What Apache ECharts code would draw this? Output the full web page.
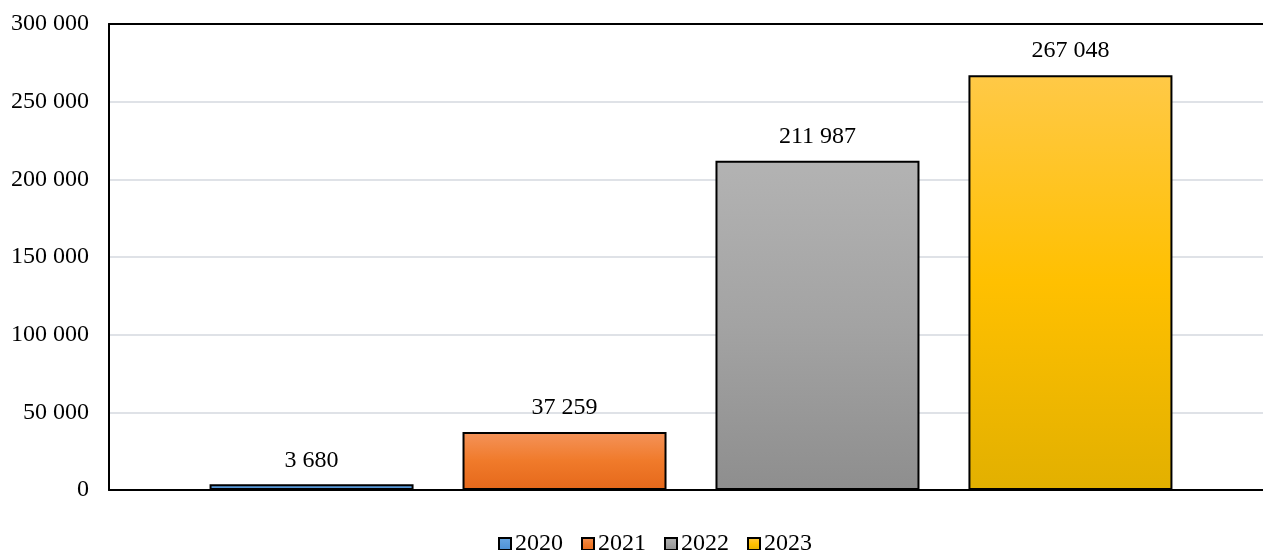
<!DOCTYPE html>
<html>
<head>
<meta charset="utf-8">
<script src="https://cdn.jsdelivr.net/npm/echarts@6/dist/echarts.min.js"></script>
<style>html,body{margin:0;padding:0;background:#fff}#c{width:1263px;height:550px}</style>
</head>
<body>
<div id="c"></div>
<script>
const categories = [''];
const seriesNames = ['2020', '2021', '2022', '2023'];
const values2020 = [3680];
const values2021 = [37259];
const values2022 = [211987];
const values2023 = [267048];
const yTicks = [0, 50000, 100000, 150000, 200000, 250000, 300000];

const allValues = [values2020, values2021, values2022, values2023];
const gradients = [
  [['#6aa8e4', 0], ['#4a8fd4', 1]],
  [['#f4935a', 0], ['#f07a2a', 0.5], ['#e5681b', 1]],
  [['#b3b3b3', 0], ['#a3a3a3', 0.5], ['#8e8e8e', 1]],
  [['#ffc947', 0], ['#ffc000', 0.5], ['#e2b000', 1]]
];
function grad(stops) {
  return new echarts.graphic.LinearGradient(0, 0, 0, 1,
    stops.map(s => ({ offset: s[1], color: s[0] })));
}
const fmt = v => String(v).replace(/\B(?=(\d{3})+(?!\d))/g, ' ');
const font = 'Liberation Serif';

const chart = echarts.init(document.getElementById('c'), null, { renderer: 'canvas' });
chart.setOption({
  animation: false,
  textStyle: { fontFamily: font },
  grid: { left: 109, width: 1164, top: 24, height: 466, outerBoundsMode: 'none', containLabel: false, show: false },
  legend: {
    data: seriesNames,
    top: 527,
    left: 493,
    icon: 'rect',
    itemWidth: 12,
    itemHeight: 12,
    itemGap: 18,
    textStyle: { fontFamily: font, fontSize: 24, color: '#000', padding: [0, 0, 0, -1] }
  },
  xAxis: [{
    type: 'category',
    data: categories,
    axisLine: { show: true, lineStyle: { color: '#000', width: 2 } },
    axisTick: { show: false },
    axisLabel: { show: false },
    splitLine: { show: false }
  }, {
    type: 'category',
    position: 'top',
    data: categories,
    axisLine: { show: true, onZero: false, lineStyle: { color: '#000', width: 2 } },
    axisTick: { show: false },
    axisLabel: { show: false },
    splitLine: { show: false }
  }],
  yAxis: {
    type: 'value',
    min: yTicks[0],
    max: yTicks[yTicks.length - 1],
    interval: yTicks[1] - yTicks[0],
    axisLine: { show: true, lineStyle: { color: '#000', width: 2 } },
    axisTick: { show: false },
    axisLabel: { color: '#000', fontSize: 24, fontFamily: font, margin: 20, formatter: v => fmt(v) },
    splitLine: { show: true, lineStyle: { color: '#dfe2e7', width: 2 } }
  },
  series: seriesNames.map((name, i) => ({
    name: name,
    type: 'bar',
    data: allValues[i],
    barWidth: 204,
    barGap: '24%',
    itemStyle: { color: grad(gradients[i]), borderColor: '#000', borderWidth: 2 },
    label: {
      show: true,
      position: 'top',
      distance: 12,
      color: '#000',
      fontSize: 24,
      fontFamily: font,
      formatter: p => fmt(p.value)
    }
  }))
});
</script>
</body>
</html>
